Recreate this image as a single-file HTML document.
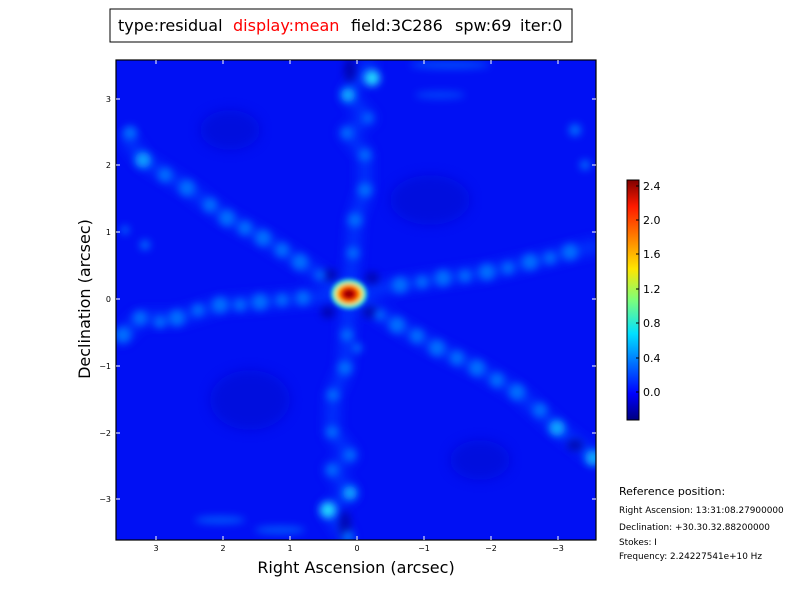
<!DOCTYPE html>
<html><head><meta charset="utf-8"><style>
body{margin:0;background:#fff;width:800px;height:600px;overflow:hidden;font-family:"DejaVu Sans",sans-serif}
</style></head><body>
<svg width="800" height="600" xmlns="http://www.w3.org/2000/svg" font-family="'DejaVu Sans',sans-serif">
<defs>
<filter id="b" x="-50%" y="-50%" width="200%" height="200%"><feGaussianBlur stdDeviation="4"/></filter>
<filter id="b3" x="-50%" y="-50%" width="200%" height="200%"><feGaussianBlur stdDeviation="6"/></filter>
<filter id="b2" x="-50%" y="-50%" width="200%" height="200%"><feGaussianBlur stdDeviation="2.2"/></filter>
<clipPath id="c"><rect x="116" y="60" width="480" height="480"/></clipPath>
<linearGradient id="jet" x1="0" y1="1" x2="0" y2="0">
<stop offset="0" stop-color="#00007f"/><stop offset="0.11" stop-color="#0000ff"/><stop offset="0.36" stop-color="#00e0ff"/><stop offset="0.5" stop-color="#7dff7a"/><stop offset="0.63" stop-color="#ffe600"/><stop offset="0.89" stop-color="#ff1a00"/><stop offset="1" stop-color="#800000"/>
</linearGradient>
</defs>
<rect x="110" y="9" width="462" height="33" fill="#fff" stroke="#000" stroke-width="1"/>
<text x="118" y="31" font-size="16">type:residual</text>
<text x="233" y="31" font-size="16" fill="#ff0000">display:mean</text>
<text x="351" y="31" font-size="16">field:3C286</text>
<text x="455" y="31" font-size="16">spw:69</text>
<text x="520" y="31" font-size="16">iter:0</text>
<g clip-path="url(#c)">
<rect x="116" y="60" width="480" height="480" fill="#0010f4"/>
<g filter="url(#b3)" fill="#0008d0" opacity="0.6">
<ellipse cx="430" cy="200" rx="40" ry="25"/><ellipse cx="250" cy="400" rx="40" ry="30"/><ellipse cx="480" cy="460" rx="30" ry="20"/><ellipse cx="230" cy="130" rx="30" ry="20"/>
</g>
<g filter="url(#b3)" fill="none" stroke="#0040ff" stroke-width="12" opacity="0.8">
<polyline points="125,135 143,160 187,188 227,218 263,238 300,262 349,294 397,325 437,348 477,368 517,392 557,428 596,458"/>
<polyline points="118,340 140,318 177,318 220,305 260,302 303,298 349,294 400,285 443,278 487,272 530,262 570,252 600,245"/>
<polyline points="372,60 348,95 368,118 347,133 365,155 365,190 355,220 353,253 349,294 347,335 345,368 333,395 332,432 350,455 332,470 350,493 328,510 348,540"/>
</g>
<g filter="url(#b)" fill="#000099" opacity="0.7">
<ellipse cx="330" cy="275" rx="8" ry="6"/><ellipse cx="370" cy="312" rx="8" ry="6"/><ellipse cx="328" cy="312" rx="7" ry="6"/><ellipse cx="372" cy="278" rx="7" ry="6"/>
<ellipse cx="350" cy="70" rx="6" ry="12"/><ellipse cx="345" cy="525" rx="6" ry="14"/><ellipse cx="575" cy="445" rx="8" ry="6"/>
</g>
<g filter="url(#b)" fill="#0070ff">
<circle cx="143" cy="160" r="8" fill="#10a0ff"/><circle cx="130" cy="133" r="7"/><circle cx="165" cy="175" r="7"/><circle cx="187" cy="188" r="8"/><circle cx="210" cy="205" r="7"/><circle cx="227" cy="218" r="8"/><circle cx="245" cy="228" r="7"/><circle cx="263" cy="238" r="8"/><circle cx="282" cy="250" r="7"/><circle cx="300" cy="262" r="8"/><circle cx="320" cy="275" r="5"/>
<circle cx="380" cy="315" r="5"/><circle cx="397" cy="325" r="8"/><circle cx="417" cy="336" r="7"/><circle cx="437" cy="348" r="8"/><circle cx="457" cy="358" r="7"/><circle cx="477" cy="368" r="8"/><circle cx="497" cy="380" r="7"/><circle cx="517" cy="392" r="8"/><circle cx="540" cy="410" r="7"/><circle cx="557" cy="428" r="8" fill="#10a8ff"/><circle cx="593" cy="458" r="8" fill="#10a8ff"/>
<circle cx="123" cy="335" r="8"/><circle cx="140" cy="318" r="7"/><circle cx="160" cy="322" r="6"/><circle cx="177" cy="318" r="8"/><circle cx="198" cy="310" r="6"/><circle cx="220" cy="305" r="8"/><circle cx="240" cy="305" r="6"/><circle cx="260" cy="302" r="8"/><circle cx="282" cy="300" r="6"/><circle cx="303" cy="298" r="7"/>
<circle cx="400" cy="285" r="8"/><circle cx="422" cy="282" r="6"/><circle cx="443" cy="278" r="8"/><circle cx="465" cy="276" r="6"/><circle cx="487" cy="272" r="8"/><circle cx="508" cy="268" r="6"/><circle cx="530" cy="262" r="8"/><circle cx="550" cy="258" r="6"/><circle cx="570" cy="252" r="8"/>
<circle cx="372" cy="78" r="8" fill="#20d8ff"/><circle cx="348" cy="95" r="7" fill="#10b0ff"/><circle cx="368" cy="118" r="5"/><circle cx="347" cy="133" r="6"/><circle cx="365" cy="155" r="6"/><circle cx="365" cy="190" r="7"/><circle cx="355" cy="220" r="7"/><circle cx="353" cy="253" r="6"/>
<circle cx="347" cy="335" r="6"/><circle cx="357" cy="348" r="5"/><circle cx="345" cy="368" r="7"/><circle cx="333" cy="395" r="6"/><circle cx="332" cy="432" r="6"/><circle cx="350" cy="455" r="6"/><circle cx="332" cy="470" r="6"/><circle cx="350" cy="493" r="7" fill="#10a8ff"/><circle cx="328" cy="510" r="8" fill="#20d8ff"/><circle cx="348" cy="537" r="6"/>
<circle cx="145" cy="245" r="5"/><circle cx="575" cy="130" r="6"/><circle cx="585" cy="165" r="5"/><circle cx="125" cy="230" r="4"/>
<ellipse cx="220" cy="520" rx="25" ry="4" opacity="0.7"/><ellipse cx="280" cy="530" rx="25" ry="4" opacity="0.7"/><ellipse cx="450" cy="65" rx="40" ry="4" opacity="0.6"/><ellipse cx="440" cy="95" rx="25" ry="4" opacity="0.5"/>
</g>
<g filter="url(#b2)">
<ellipse cx="349" cy="294" rx="18" ry="15" fill="#30e8d0"/>
<ellipse cx="349" cy="294" rx="14" ry="11" fill="#ffe000"/>
<ellipse cx="349" cy="294" rx="11" ry="9" fill="#ff6000"/>
<ellipse cx="349" cy="294" rx="8" ry="6.5" fill="#e00000"/>
<ellipse cx="349" cy="294" rx="5" ry="4" fill="#900000"/>
</g>
</g>
<rect x="116" y="60" width="480" height="480" fill="none" stroke="#000" stroke-width="1.2"/>
<g stroke="#fff" stroke-width="1">
<path d="M156 540v-4M223 540v-4M290 540v-4M357 540v-4M424 540v-4M491 540v-4M558 540v-4M156 60v4M223 60v4M290 60v4M357 60v4M424 60v4M491 60v4M558 60v4"/>
<path d="M116 99h4M116 165h4M116 232h4M116 299h4M116 366h4M116 433h4M116 499h4M596 99h-4M596 165h-4M596 232h-4M596 299h-4M596 366h-4M596 433h-4M596 499h-4"/>
</g>
<g font-size="8" text-anchor="middle">
<text x="156" y="551">3</text><text x="223" y="551">2</text><text x="290" y="551">1</text><text x="357" y="551">0</text><text x="424" y="551">−1</text><text x="491" y="551">−2</text><text x="558" y="551">−3</text>
</g>
<g font-size="8" text-anchor="end">
<text x="111" y="102">3</text><text x="111" y="168">2</text><text x="111" y="235">1</text><text x="111" y="302">0</text><text x="111" y="369">−1</text><text x="111" y="436">−2</text><text x="111" y="502">−3</text>
</g>
<text x="356" y="573" font-size="16" text-anchor="middle">Right Ascension (arcsec)</text>
<text x="90" y="299" font-size="16" text-anchor="middle" transform="rotate(-90 90 299)">Declination (arcsec)</text>
<rect x="627" y="180" width="12" height="240" fill="url(#jet)" stroke="#000" stroke-width="1"/>
<g stroke="#000"><path d="M639 186h-3M639 220h-3M639 254h-3M639 289h-3M639 323h-3M639 358h-3M639 392h-3"/></g>
<g font-size="11">
<text x="643" y="190">2.4</text><text x="643" y="224">2.0</text><text x="643" y="258">1.6</text><text x="643" y="293">1.2</text><text x="643" y="327">0.8</text><text x="643" y="362">0.4</text><text x="643" y="396">0.0</text>
</g>
<text x="619" y="495" font-size="11">Reference position:</text>
<g font-size="8.9">
<text x="619" y="513">Right Ascension: 13:31:08.27900000</text>
<text x="619" y="530">Declination: +30.30.32.88200000</text>
<text x="619" y="545">Stokes: I</text>
<text x="619" y="559">Frequency: 2.24227541e+10 Hz</text>
</g>
</svg>
</body></html>
